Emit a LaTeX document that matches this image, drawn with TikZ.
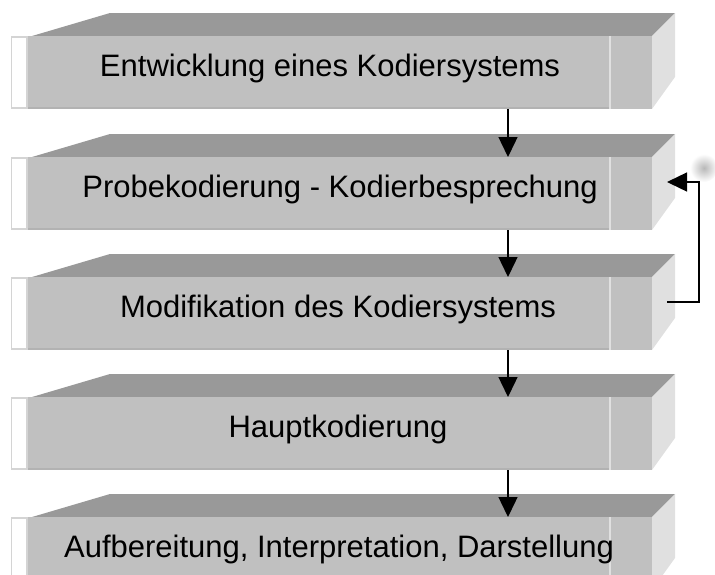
\documentclass[tikz,border=0pt]{standalone}
\usepackage{fontspec}
\setmainfont{Liberation Sans}
\usetikzlibrary{arrows.meta}

\definecolor{dach}{HTML}{999999}
\definecolor{front}{HTML}{C0C0C0}
\definecolor{seite}{HTML}{E0E0E0}
\definecolor{rand}{HTML}{D4D4D4}
\definecolor{kante}{HTML}{B2B2B2}

\tikzset{
  pfeil/.style={line width=1.4pt, -{Triangle[width=19pt,length=20pt]}},
  stufe/.style={font=\fontsize{31}{36}\selectfont, inner sep=0pt, anchor=base},
}

\begin{document}
\begin{tikzpicture}[x=1pt,y=-1pt]
\useasboundingbox[clip] (0,0) rectangle (715,574);

% die fuenf Stufen
\foreach \t/\m/\n/\txt in {36/330/b1/Entwicklung eines Kodiersystems,
                        157/340/b2/Probekodierung - Kodierbesprechung,
                        277/338/b3/Modifikation des Kodiersystems,
                        397/338/b4/Hauptkodierung,
                        517/339/b5/{Aufbereitung, Interpretation, Darstellung}}{
  \fill[dach] (32,\t) -- (110,\t-23) -- (675,\t-23) -- (652,\t) -- cycle;
  \fill[seite] (652,\t) -- (675,\t-23) -- (675,\t+41) -- (652,\t+73) -- cycle;
  \fill[front] (27,\t) rectangle (652,\t+73);
  \draw[kante, line width=1.5pt] (27,\t+72.2) -- (609,\t+72.2);
  \draw[seite, line width=2pt] (610,\t) -- (610,\t+73);
  \draw[rand, line width=1.5pt, fill=white] (11.5,\t+0.8) rectangle (27,\t+72.2);
  \node[stufe] (\n) at (\m,\t+40.5) {\txt};
  \coordinate (\n-o) at (508,\t);
  \coordinate (\n-u) at (508,\t+73);
  \coordinate (\n-r) at (667,\t+25);
}

% Pfeile
\foreach \a/\b in {b1/b2,b2/b3,b3/b4,b4/b5}
  \draw[pfeil] (\a-u) -- (\b-o);

\shade[inner color=black!28, outer color=white] (704,168) circle (14);
\draw[pfeil] (b3-r) -- ++(32,0) |- (b2-r);

\end{tikzpicture}
\end{document}
